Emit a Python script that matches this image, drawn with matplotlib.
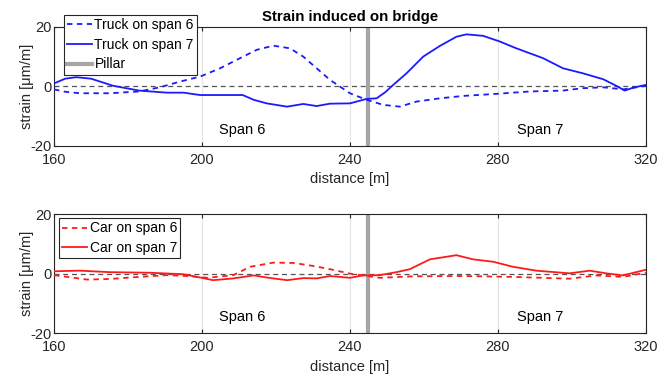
import numpy as np
import matplotlib.pyplot as plt

plt.rcParams['font.family'] = ['Liberation Sans', 'DejaVu Sans']
plt.rcParams['font.size'] = 10.5
plt.rcParams['axes.unicode_minus'] = False

# truck, solid = on span 7, dashed = on span 6
truck7_x = [160, 163, 166, 170, 176, 183, 190.5, 195, 199.5, 211, 214, 217.5, 223, 227.4, 231,
            234.6, 240, 244.5, 247.2, 249.5, 251.7, 255.3, 259.8, 264.3, 268.8, 271.5, 276,
            280.5, 285, 292.2, 297.6, 303, 308.5, 312, 314.3, 316.6, 320]
truck7_y = [1.0, 2.6, 3.1, 2.6, 0.2, -1.4, -2.1, -2.1, -2.9, -2.9, -4.5, -5.7, -6.8, -5.9, -6.6,
            -5.8, -5.7, -4.2, -4.0, -2.0, 0.5, 4.4, 10.0, 13.6, 16.7, 17.5, 17.0,
            15.1, 12.8, 9.5, 6.1, 4.4, 2.4, 0.2, -1.4, -0.4, 0.5]
truck6_x = [160, 163, 167, 175, 183, 188.6, 194, 199.5, 204.9, 210.3, 214.8, 219.3, 223.8,
            227.4, 231, 234.6, 240, 244.5, 249, 253.5, 258, 264.3, 270.6, 279.6, 288.6,
            297.6, 303, 308.5, 313.9, 320]
truck6_y = [-1.0, -1.8, -2.3, -2.3, -1.7, -0.3, 1.6, 3.3, 6.1, 9.5, 12.3, 13.7, 12.8,
            10.0, 6.1, 2.2, -2.3, -4.5, -6.2, -6.8, -5.1, -4.0, -3.2, -2.5, -1.7,
            -1.4, -0.6, -0.3, -1.0, 0.2]

# car
car7_x = [160, 167, 175, 186, 195, 199.5, 203, 208.5, 214, 217.5, 223, 227.4, 231, 234.6,
          240, 243.6, 248.1, 252.6, 256.2, 261.6, 268.8, 273.3, 278.7, 284.1, 290.4,
          299.4, 304.8, 309.3, 313.8, 320]
car7_y = [0.8, 1.0, 0.5, 0.3, -0.2, -1.3, -2.2, -1.6, -0.6, -1.3, -2.2, -1.5, -1.6, -0.8,
          -1.4, -0.6, -0.5, 0.5, 1.5, 4.8, 6.2, 4.8, 4.0, 2.3, 1.0,
          0.1, 1.0, 0.1, -0.6, 1.3]
car6_x = [160, 169, 175, 183, 190.5, 196, 201.5, 208.5, 213, 219.3, 224.7, 230, 234.6, 240,
          248.1, 257.1, 270.6, 284.1, 299.4, 306.6, 313.8, 320]
car6_y = [-0.5, -2.0, -1.8, -1.1, -0.5, -0.8, -1.4, -0.5, 2.3, 3.7, 3.6, 2.6, 1.5, 0.0,
          -1.4, -0.9, -0.8, -1.1, -1.7, -0.6, -1.1, 0.3]

pillar_x = 245
xticks = [160, 200, 240, 280, 320]
yticks = [-20, 0, 20]

fig = plt.figure(figsize=(6.59, 3.79), dpi=100)
ax1 = fig.add_axes([0.082, 0.615, 0.898, 0.314])
ax2 = fig.add_axes([0.082, 0.121, 0.898, 0.314])

blue = '#1a1aff'
red = '#ff1a1a'

def style(ax):
    ax.set_xlim(160, 320)
    ax.set_ylim(-20, 20)
    ax.set_xticks(xticks)
    ax.set_yticks(yticks)
    ax.tick_params(direction='in', length=3, top=True, right=True, colors='#262626',
                   labelcolor='#262626', labelsize=10.5)
    ax.tick_params(axis='x', pad=5)
    ax.tick_params(axis='y', pad=2)
    for s in ax.spines.values():
        s.set_color('#262626')
        s.set_linewidth(0.8)
    ax.grid(axis='x', color='#e6e6e6', linewidth=0.9)
    ax.set_axisbelow(True)
    ax.axhline(0, color='#555555', linestyle=(0, (4, 3)), linewidth=0.9, zorder=1)
    ax.set_xlabel('distance [m]', color='#262626', labelpad=4)
    ax.set_ylabel('strain [μm/m]', color='#262626', labelpad=-3)
    ax.text(211, -14.6, 'Span 6', ha='center', va='center', fontsize=10.5)
    ax.text(291.5, -14.6, 'Span 7', ha='center', va='center', fontsize=10.5)

style(ax1)
l1, = ax1.plot(truck6_x, truck6_y, color=blue, linestyle=(0, (3, 2.5)), linewidth=1.3,
               label='Truck on span 6', zorder=3)
l2, = ax1.plot(truck7_x, truck7_y, color=blue, linewidth=1.3, label='Truck on span 7', zorder=3)
l3 = ax1.axvline(pillar_x, color='#a6a6a6', linewidth=3, label='Pillar', zorder=2)
ax1.set_title('Strain induced on bridge', fontweight='bold', fontsize=10.8, pad=4)
leg1 = ax1.legend(handles=[l1, l2, l3], loc='upper left', bbox_to_anchor=(0.097, 0.961),
                  bbox_transform=fig.transFigure, fancybox=False, edgecolor='#262626',
                  framealpha=1, borderpad=0.25, labelspacing=0.4, handlelength=1.75,
                  handletextpad=0.2, borderaxespad=0, fontsize=10)
leg1.get_frame().set_linewidth(0.8)

style(ax2)
ax2.axvline(pillar_x, color='#a6a6a6', linewidth=3, zorder=2)
c1, = ax2.plot(car6_x, car6_y, color=red, linestyle=(0, (3, 2.5)), linewidth=1.3,
               label='Car on span 6', zorder=3)
c2, = ax2.plot(car7_x, car7_y, color=red, linewidth=1.3, label='Car on span 7', zorder=3)
leg2 = ax2.legend(handles=[c1, c2], loc='upper left', bbox_to_anchor=(0.0895, 0.425),
                  bbox_transform=fig.transFigure, fancybox=False, edgecolor='#262626',
                  framealpha=1, borderpad=0.25, labelspacing=0.4, handlelength=1.75,
                  handletextpad=0.2, borderaxespad=0, fontsize=10)
leg2.get_frame().set_linewidth(0.8)

fig.savefig('out.png', dpi=100)
